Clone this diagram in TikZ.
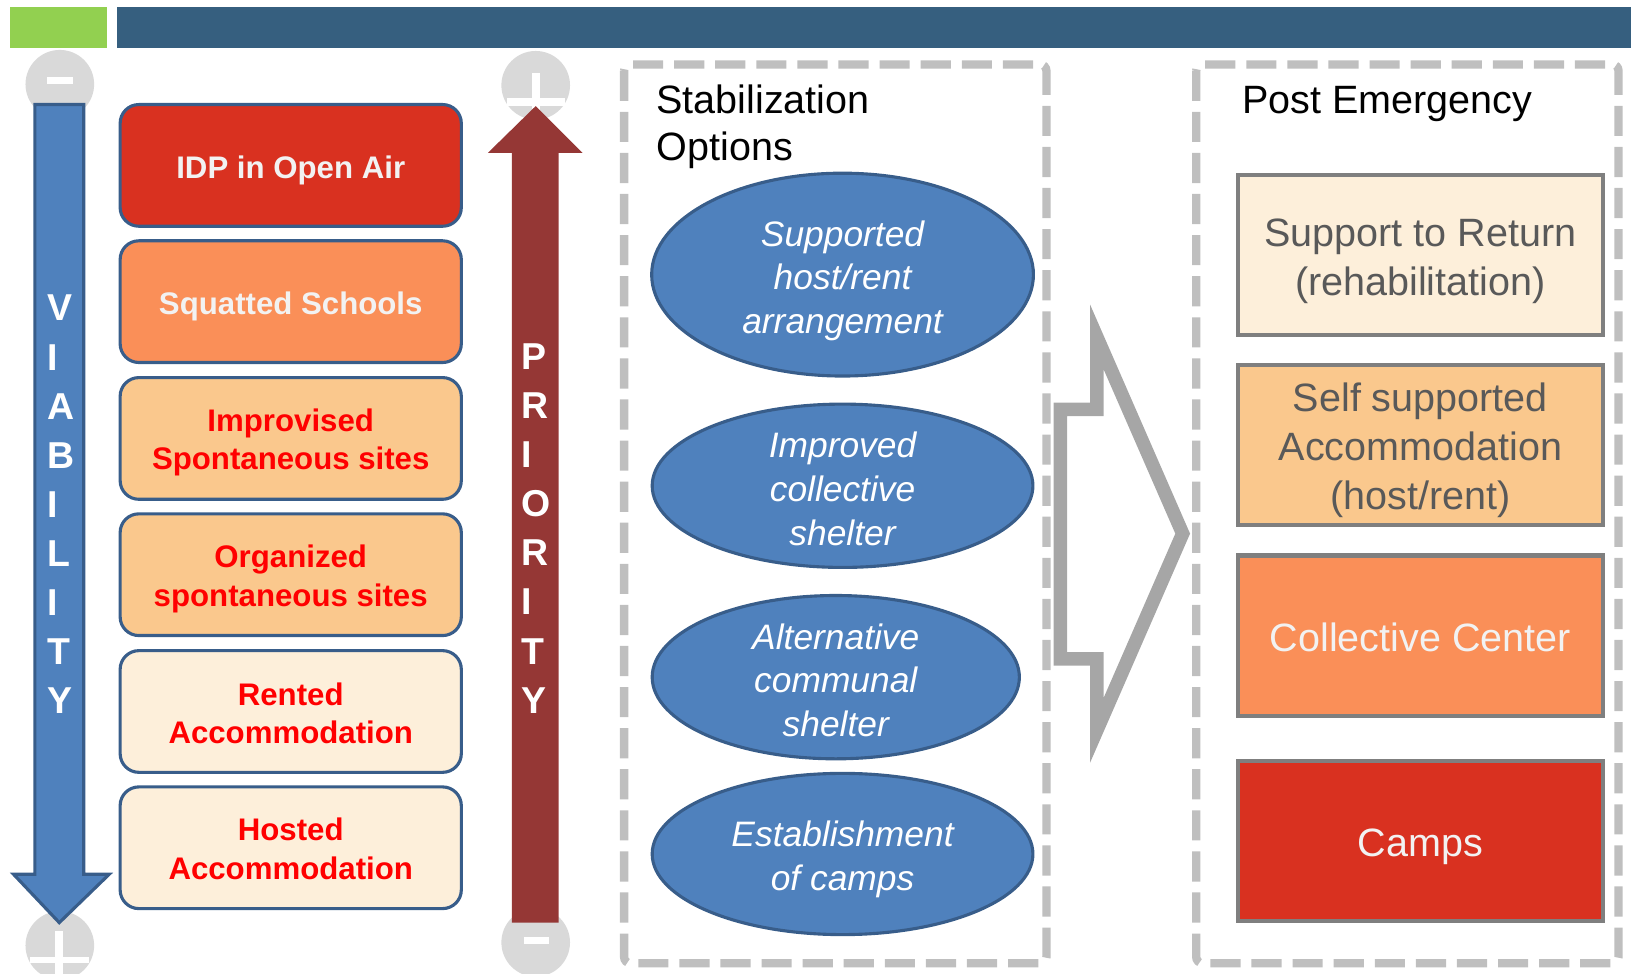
\documentclass[tikz,border=0pt]{standalone}
\usepackage{fontspec}
\setmainfont{Liberation Sans}
\usetikzlibrary{shapes.geometric}

\definecolor{topgreen}{HTML}{92D050}
\definecolor{topblue}{HTML}{365F7F}
\definecolor{vblue}{HTML}{4F81BD}
\definecolor{vborder}{HTML}{385D8A}
\definecolor{pred}{HTML}{953735}
\definecolor{cred}{HTML}{D93120}
\definecolor{corange}{HTML}{FA8F58}
\definecolor{clight}{HTML}{FAC88D}
\definecolor{ccream}{HTML}{FDEFDA}
\definecolor{dashgray}{HTML}{BFBFBF}
\definecolor{arrgray}{HTML}{A6A6A6}
\definecolor{knobgray}{HTML}{D9D9D9}
\definecolor{txtgray}{HTML}{595959}
\definecolor{boxgray}{HTML}{7F7F7F}
\definecolor{offwhite}{HTML}{F2F2F2}

\tikzset{
  shelter/.style={rectangle, rounded corners=18pt, draw=vborder, line width=3pt, minimum width=328pt, minimum height=117pt, inner sep=0pt},
  sheltertext/.style={align=center, inner sep=0pt, font=\fontsize{30}{37}\selectfont\bfseries},
  option/.style={ellipse, draw=vborder, line width=3pt, fill=vblue, inner sep=0pt},
  optiontext/.style={align=center, text=white, inner sep=0pt, font=\fontsize{34}{42}\selectfont\itshape},
  outcome/.style={rectangle, draw=boxgray, line width=4pt, minimum width=351pt, minimum height=154pt, inner sep=0pt},
  outcometext/.style={align=center, inner sep=0pt, font=\fontsize{38}{47}\selectfont},
  dashframe/.style={draw=dashgray, line width=8pt, dash pattern=on 29pt off 10.5pt, rounded corners=6pt},
  knob/.style={circle, fill=knobgray, minimum size=66pt, inner sep=0pt},
  spine/.style={anchor=west, text=white, align=left, inner sep=0pt, font=\fontsize{36}{47.2}\selectfont\bfseries},
  heading/.style={anchor=north west, align=left, inner sep=0pt, font=\fontsize{38}{46}\selectfont}
}

\begin{document}
\begin{tikzpicture}[x=1pt,y=-1pt]
\useasboundingbox (0,0) rectangle (1568,936);
\clip (0,0) rectangle (1568,936);

% top bars
\fill[topgreen] (10,7) rectangle (103,46);
\fill[topblue] (112,7) rectangle (1568,46);

% end knobs
\begin{scope}[every node/.style={knob}]
    \node (vtop) at (57.5,81) {};
    \node (vbot) at (57.5,909) {};
    \node (ptop) at (515,82) {};
    \node (pbot) at (515,906) {};
\end{scope}
\fill[white] (45,74) rectangle (70,81);
\fill[white] (53,895) rectangle (61,951);
\fill[white] (29,920) rectangle (86,926);
\fill[white] (511,70) rectangle (519,126);
\fill[white] (487,94) rectangle (543,102);
\fill[white] (504,901) rectangle (528,908);

% viability and priority arrows
\filldraw[fill=vblue, draw=vborder, line width=3pt] (33.5,100.5) -- (80.5,100.5) -- (80.5,840.5) -- (105,840.5) -- (57,887) -- (13,840.5) -- (33.5,840.5) -- cycle;
\fill[pred] (492,887) -- (492,147) -- (469,147) -- (515,102) -- (560,147) -- (537,147) -- (537,887) -- cycle;
\node[spine] (viab) at (45,485) {V\\I\\A\\B\\I\\L\\I\\T\\Y};
\node[spine] (prio) at (501,508) {P\\R\\I\\O\\R\\I\\T\\Y};

% current situations
\begin{scope}[every node/.style={shelter}]
    \node[fill=cred] (idp) at (279.5,159) {};
    \node[fill=corange] (squat) at (279.5,290) {};
    \node[fill=clight] (impro) at (279.5,421.5) {};
    \node[fill=clight] (organ) at (279.5,552.5) {};
    \node[fill=ccream] (rent) at (279.5,684) {};
    \node[fill=ccream] (host) at (279.5,815) {};
\end{scope}
\begin{scope}[every node/.style={sheltertext}]
    \node[text=offwhite] at ([yshift=-5pt]idp) {IDP in Open Air};
    \node[text=offwhite] at ([yshift=-5pt]squat) {Squatted Schools};
    \node[text=red] at ([yshift=-4pt]impro) {Improvised\\Spontaneous sites};
    \node[text=red] at ([yshift=-4pt]organ) {Organized\\spontaneous sites};
    \node[text=red] at ([yshift=-2pt]rent) {Rented\\Accommodation};
    \node[text=red] at ([yshift=-1pt]host) {Hosted\\Accommodation};
\end{scope}

% stabilization options
\path[dashframe] (600,62) rectangle (1006,926);
\node[heading] (stab) at (631,81) {Stabilization\\Options};
\node[option, minimum width=367pt, minimum height=195pt] (supp) at (810,264) {};
\node[option, minimum width=366pt, minimum height=157pt] (impr) at (810,467) {};
\node[option, minimum width=353pt, minimum height=157pt] (alt) at (803.5,651) {};
\node[option, minimum width=366pt, minimum height=155pt] (estab) at (810,821) {};
\node[optiontext] at ([yshift=-6pt]supp) {Supported\\host/rent\\arrangement};
\node[optiontext] at ([yshift=-3pt]impr) {Improved\\collective\\shelter};
\node[optiontext] at ([yshift=-3pt]alt) {Alternative\\communal\\shelter};
\node[optiontext] at ([yshift=-5pt]estab) {Establishment\\of camps};

% big hollow arrow
\draw[arrgray, line width=13pt] (1019.5,393.5) -- (1054.5,393.5) -- (1054.5,324) -- (1137,513) -- (1054.5,702) -- (1054.5,633.5) -- (1019.5,633.5) -- cycle;

% post emergency
\path[dashframe] (1150,62) rectangle (1556,926);
\node[heading] (post) at (1194,83) {Post Emergency};
\begin{scope}[every node/.style={outcome}]
    \node[fill=ccream] (ret) at (1365.5,245) {};
    \node[fill=clight] (self) at (1365.5,428) {};
    \node[fill=corange] (coll) at (1365.5,611) {};
    \node[fill=cred] (camp) at (1365.5,808.5) {};
\end{scope}
\begin{scope}[every node/.style={outcometext}]
    \node[text=txtgray] at ([yshift=-6pt]ret) {Support to Return\\(rehabilitation)};
    \node[text=txtgray] at ([yshift=-5pt]self) {Self supported\\Accommodation\\(host/rent)};
    \node[text=offwhite] at ([yshift=-2pt]coll) {Collective Center};
    \node[text=offwhite] at ([yshift=-6pt]camp) {Camps};
\end{scope}
\end{tikzpicture}
\end{document}
